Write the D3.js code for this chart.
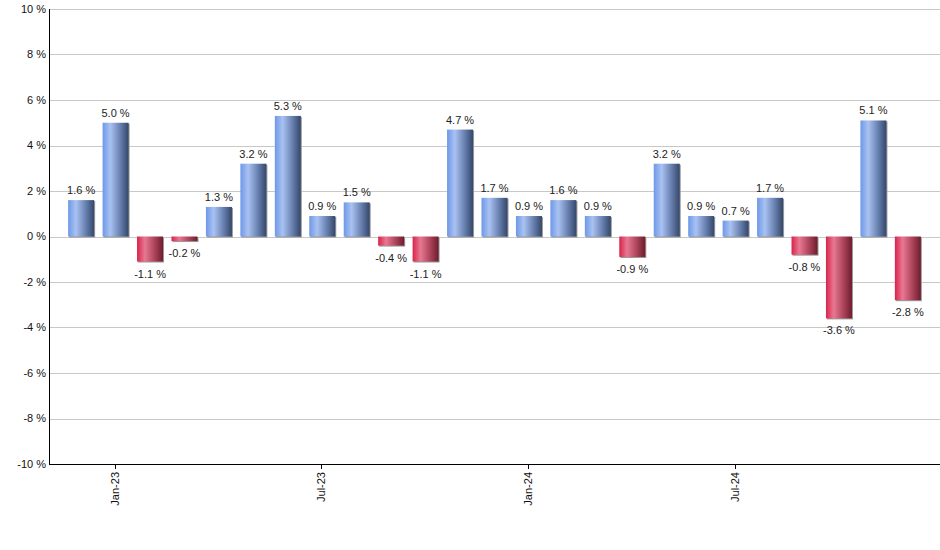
<!DOCTYPE html>
<html>
<head>
<meta charset="utf-8">
<script src="https://cdn.jsdelivr.net/npm/d3@7"></script>
<style>
  body { margin: 0; background: #fff; }
  text { font-family: "Liberation Sans", Arial, sans-serif; }
</style>
</head>
<body>
<div id="chart"></div>
<script>
// monthly returns, Dec-22 .. Dec-24
var months = ["Dec-22","Jan-23","Feb-23","Mar-23","Apr-23","May-23","Jun-23","Jul-23","Aug-23","Sep-23",
  "Oct-23","Nov-23","Dec-23","Jan-24","Feb-24","Mar-24","Apr-24","May-24","Jun-24","Jul-24",
  "Aug-24","Sep-24","Oct-24","Nov-24","Dec-24"];
var values = [1.6, 5.0, -1.1, -0.2, 1.3, 3.2, 5.3, 0.9, 1.5, -0.4,
  -1.1, 4.7, 1.7, 0.9, 1.6, 0.9, -0.9, 3.2, 0.9, 0.7,
  1.7, -0.8, -3.6, 5.1, -2.8];
var tickMonths = ["Jan-23", "Jul-23", "Jan-24", "Jul-24"];
var yTicks = [-10, -8, -6, -4, -2, 0, 2, 4, 6, 8, 10];

var width = 940, height = 550;
var plotLeft = 49, plotTop = 9, plotBottom = 464;

var svg = d3.select("#chart").append("svg")
  .attr("width", width)
  .attr("height", height);

var defs = svg.append("defs");
function grad(id, stops) {
  var g = defs.append("linearGradient").attr("id", id)
    .attr("x1", "0%").attr("x2", "100%").attr("y1", "0%").attr("y2", "0%");
  stops.forEach(function (s) {
    g.append("stop").attr("offset", s[0]).attr("stop-color", s[1]);
  });
}
grad("gPos", [["0%", "#6d98e8"], ["30%", "#a9c2f2"], ["65%", "#6c85b4"], ["100%", "#34476b"]]);
grad("gNeg", [["0%", "#d9234a"], ["30%", "#e87892"], ["65%", "#b0475e"], ["100%", "#6e1c2c"]]);

var x = d3.scaleBand()
  .domain(months)
  .range([64, 925])
  .paddingInner(0.245)
  .paddingOuter(0.12);

var y = d3.scaleLinear()
  .domain([-10, 10])
  .range([plotBottom, plotTop]);

// grid
svg.append("g")
  .selectAll("line")
  .data(yTicks)
  .enter().append("line")
  .attr("x1", plotLeft)
  .attr("x2", width)
  .attr("y1", function (d) { return Math.round(y(d)) + 0.5; })
  .attr("y2", function (d) { return Math.round(y(d)) + 0.5; })
  .style("stroke", "#c8c8c8")
  .style("stroke-width", 1);

// y labels
svg.append("g")
  .selectAll("text")
  .data(yTicks)
  .enter().append("text")
  .attr("x", plotLeft - 3)
  .attr("y", function (d) { return y(d); })
  .attr("dy", "0.35em")
  .attr("text-anchor", "end")
  .style("font-size", "11px")
  .style("fill", "#111")
  .text(function (d) { return d + " %"; });

// bars with a small shadow
var bars = svg.append("g");
bars.selectAll("rect.shadow")
  .data(values)
  .enter().append("rect")
  .attr("class", "shadow")
  .attr("x", function (d, i) { return x(months[i]) + 1; })
  .attr("y", function (d) { return Math.min(y(d), y(0)) + 1; })
  .attr("width", x.bandwidth())
  .attr("height", function (d) { return Math.abs(y(d) - y(0)); })
  .style("fill", "#9a9a9a");

bars.selectAll("rect.bar")
  .data(values)
  .enter().append("rect")
  .attr("class", "bar")
  .attr("x", function (d, i) { return x(months[i]); })
  .attr("y", function (d) { return Math.min(y(d), y(0)); })
  .attr("width", x.bandwidth())
  .attr("height", function (d) { return Math.abs(y(d) - y(0)); })
  .style("fill", function (d) { return d >= 0 ? "url(#gPos)" : "url(#gNeg)"; });

// value labels
svg.append("g")
  .selectAll("text")
  .data(values)
  .enter().append("text")
  .attr("x", function (d, i) { return x(months[i]) + x.bandwidth() / 2; })
  .attr("y", function (d) { return d >= 0 ? y(d) - 6 : y(d) + 16; })
  .attr("text-anchor", "middle")
  .style("font-size", "11px")
  .style("fill", "#222")
  .text(function (d) { return d.toFixed(1) + " %"; });

// axes lines
svg.append("line")
  .attr("x1", plotLeft + 0.5).attr("x2", plotLeft + 0.5)
  .attr("y1", plotTop).attr("y2", plotBottom)
  .style("stroke", "#000");
svg.append("line")
  .attr("x1", plotLeft).attr("x2", width)
  .attr("y1", plotBottom + 0.5).attr("y2", plotBottom + 0.5)
  .style("stroke", "#000");

// x ticks
var xt = svg.append("g")
  .selectAll("g")
  .data(tickMonths)
  .enter().append("g")
  .attr("transform", function (d) {
    return "translate(" + (Math.round(x(d) + x.bandwidth() / 2) - 0.5) + "," + plotBottom + ")";
  });
xt.append("line").attr("y1", 0).attr("y2", 5).style("stroke", "#000");
xt.append("text")
  .attr("transform", "rotate(-90)")
  .attr("x", -8)
  .attr("dy", "0.35em")
  .attr("text-anchor", "end")
  .style("font-size", "11px")
  .style("fill", "#111")
  .text(function (d) { return d; });
</script>
</body>
</html>
